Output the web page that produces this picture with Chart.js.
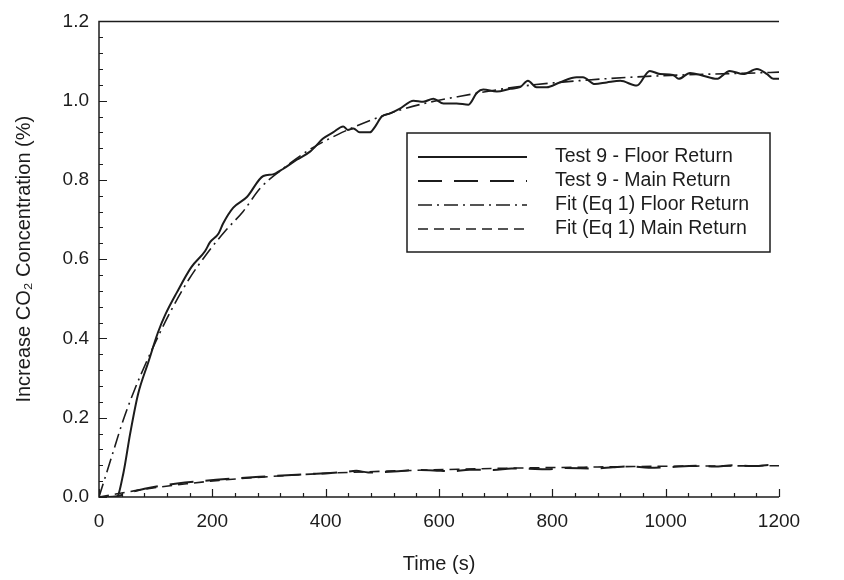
<!DOCTYPE html>
<html lang="en">
<head>
<meta charset="UTF-8">
<title>Increase CO2 Concentration - Test 9</title>
<script src="https://cdn.jsdelivr.net/npm/chart.js"></script>
<style>
  body { margin: 0; background: #fff; }
</style>
</head>
<body>
<canvas id="chart" width="844" height="580"></canvas>
<script>
// values: time (s) and increase in CO2 (%)
const floorTime = [0, 17, 31, 43, 55, 69, 87, 104, 117, 137, 163, 187, 196, 211, 219, 237, 261, 290, 307, 324, 349, 373, 396, 413, 431, 439, 449, 460, 478, 487, 499, 514, 531, 555, 572, 590, 608, 631, 652, 667, 678, 702, 726, 743, 757, 772, 790, 813, 843, 854, 875, 896, 920, 949, 972, 990, 1013, 1023, 1043, 1066, 1090, 1113, 1137, 1161, 1179, 1190, 1200];
const floorValue = [0, 0, 0, 0.06, 0.16, 0.26, 0.34, 0.415, 0.46, 0.515, 0.58, 0.62, 0.643, 0.665, 0.69, 0.73, 0.757, 0.81, 0.814, 0.827, 0.851, 0.872, 0.905, 0.92, 0.935, 0.926, 0.93, 0.92, 0.92, 0.934, 0.96, 0.968, 0.98, 1.0, 0.997, 1.005, 0.993, 0.993, 0.99, 1.02, 1.028, 1.023, 1.03, 1.034, 1.05, 1.034, 1.034, 1.046, 1.059, 1.059, 1.042, 1.046, 1.05, 1.038, 1.075, 1.067, 1.065, 1.055, 1.07, 1.063, 1.055, 1.075, 1.067, 1.08, 1.067, 1.055, 1.055];

const mainTime = [0, 16, 32, 59, 85, 138, 212, 296, 370, 433, 454, 475, 528, 559, 591, 622, 654, 696, 728, 759, 791, 823, 875, 907, 938, 970, 1002, 1054, 1086, 1118, 1160, 1181, 1200];
const mainValue = [0, 0, 0.002, 0.013, 0.022, 0.034, 0.044, 0.052, 0.058, 0.063, 0.066, 0.062, 0.065, 0.068, 0.067, 0.065, 0.069, 0.068, 0.072, 0.071, 0.07, 0.073, 0.072, 0.075, 0.077, 0.074, 0.075, 0.079, 0.077, 0.08, 0.078, 0.081, 0.08];

const fitFloorTime = [0, 22, 43, 64, 85, 106, 127, 159, 191, 222, 254, 285, 317, 370, 422, 475, 528, 580, 633, 738, 844, 949, 1054, 1160, 1200];
const fitFloorValue = [0, 0.10, 0.195, 0.275, 0.345, 0.41, 0.47, 0.55, 0.615, 0.67, 0.72, 0.78, 0.82, 0.875, 0.915, 0.948, 0.975, 0.995, 1.01, 1.035, 1.05, 1.06, 1.066, 1.07, 1.072];

const fitMainTime = [0, 32, 64, 106, 159, 212, 317, 422, 528, 633, 738, 844, 949, 1054, 1200];
const fitMainValue = [0, 0.008, 0.016, 0.025, 0.034, 0.042, 0.053, 0.061, 0.066, 0.070, 0.073, 0.075, 0.077, 0.078, 0.079];

const xTicks = [0, 200, 400, 600, 800, 1000, 1200];
const yTicks = [0, 0.2, 0.4, 0.6, 0.8, 1.0, 1.2];

const seriesNames = ['Test 9 - Floor Return', 'Test 9 - Main Return', 'Fit (Eq 1) Floor Return', 'Fit (Eq 1) Main Return'];

const ink = '#1c1c1c';
const font = 'Liberation Sans, Arial, sans-serif';

function points(ts, vs) {
    return ts.map((t, i) => ({ x: t, y: vs[i] }));
}

// axis lines, inward ticks (major + minor) and the boxed legend
const framePlugin = {
    id: 'frame',
    afterDatasetsDraw(chart) {
        const ctx = chart.ctx;
        const a = chart.chartArea;
        const xs = chart.scales.x;
        const ys = chart.scales.y;
        ctx.save();
        ctx.strokeStyle = ink;
        ctx.lineWidth = 1.5;
        ctx.beginPath();
        ctx.moveTo(a.right, a.top);
        ctx.lineTo(a.left, a.top);
        ctx.lineTo(a.left, a.bottom);
        ctx.lineTo(a.right, a.bottom);
        ctx.stroke();

        ctx.lineWidth = 1.2;
        ctx.beginPath();
        for (let t = 0; t <= 1200; t += 40) {
            const px = Math.round(xs.getPixelForValue(t)) + 0.5;
            const len = t % 200 === 0 ? 8 : 4;
            ctx.moveTo(px, a.bottom);
            ctx.lineTo(px, a.bottom - len);
        }
        for (let i = 0; i <= 30; i++) {
            const py = Math.round(ys.getPixelForValue(i * 0.04)) + 0.5;
            const len = i % 5 === 0 ? 8 : 4;
            ctx.moveTo(a.left, py);
            ctx.lineTo(a.left + len, py);
        }
        ctx.stroke();

        // legend
        const bx = 407, by = 133, bw = 363, bh = 119;
        ctx.fillStyle = '#fff';
        ctx.fillRect(bx, by, bw, bh);
        ctx.lineWidth = 1.5;
        ctx.strokeRect(bx, by, bw, bh);
        ctx.font = '19.5px ' + font;
        ctx.textBaseline = 'middle';
        chart.data.datasets.forEach((ds, i) => {
            const y = by + 24 + i * 24;
            ctx.strokeStyle = ink;
            ctx.lineWidth = ds.borderWidth;
            ctx.setLineDash(ds.borderDash || []);
            ctx.beginPath();
            ctx.moveTo(bx + 11, y);
            ctx.lineTo(bx + 120, y);
            ctx.stroke();
            ctx.setLineDash([]);
            ctx.fillStyle = ink;
            ctx.fillText(ds.label, bx + 148, y);
        });
        ctx.restore();
    }
};

new Chart(document.getElementById('chart'), {
    type: 'line',
    data: {
        datasets: [
            { label: seriesNames[0], data: points(floorTime, floorValue), borderDash: [], borderWidth: 2 },
            { label: seriesNames[1], data: points(mainTime, mainValue), borderDash: [24, 12], borderWidth: 2 },
            { label: seriesNames[2], data: points(fitFloorTime, fitFloorValue), borderDash: [14, 5, 2, 5], borderWidth: 1.6 },
            { label: seriesNames[3], data: points(fitMainTime, fitMainValue), borderDash: [10, 6], borderWidth: 1.6 }
        ].map(ds => Object.assign({ borderColor: ink, pointRadius: 0, fill: false, cubicInterpolationMode: 'monotone' }, ds))
    },
    options: {
        responsive: false,
        animation: false,
        devicePixelRatio: 1,
        layout: { padding: { top: 15, right: 65, left: 0, bottom: 0 } },
        plugins: { legend: { display: false }, tooltip: { enabled: false } },
        scales: {
            x: {
                type: 'linear',
                min: 0,
                max: 1200,
                afterBuildTicks(scale) { scale.ticks = xTicks.map(v => ({ value: v })); },
                afterFit(scale) { scale.height = 83; },
                grid: { display: false, drawTicks: false },
                border: { display: false },
                ticks: { color: ink, font: { family: font, size: 19 }, padding: 13, maxRotation: 0, callback: v => String(v) },
                title: { display: true, text: 'Time (s)', color: ink, font: { family: font, size: 20 }, padding: { top: 14, bottom: 4 } }
            },
            y: {
                min: 0,
                max: 1.2,
                afterBuildTicks(scale) { scale.ticks = yTicks.map(v => ({ value: v })); },
                afterFit(scale) { scale.width = 99; },
                grid: { display: false, drawTicks: false },
                border: { display: false },
                ticks: { color: ink, font: { family: font, size: 19 }, padding: 10, callback: v => v.toFixed(1) },
                title: { display: true, text: 'Increase CO\u2082 Concentration (%)', color: ink, font: { family: font, size: 20 }, padding: { top: 12, bottom: 0 } }
            }
        }
    },
    plugins: [framePlugin]
});
</script>
</body>
</html>
